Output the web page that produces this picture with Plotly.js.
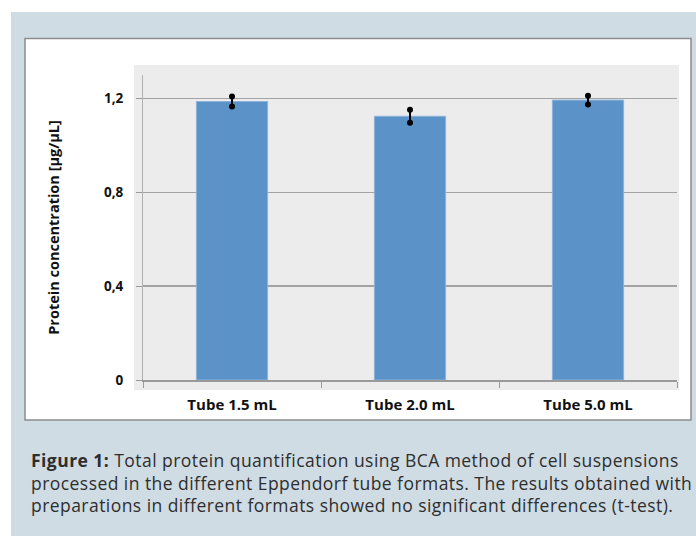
<!DOCTYPE html>
<html>
<head>
<meta charset="utf-8">
<script src="https://cdn.plot.ly/plotly-3.0.1.min.js"></script>
<style>
html,body{margin:0;padding:0;background:#ffffff;}
#wrap{position:relative;width:696px;height:536px;}
#chart{position:absolute;left:0;top:0;width:696px;height:536px;}
#caption{position:absolute;left:31px;top:449px;width:665px;
  font-family:"Open Sans",sans-serif;font-size:17.5px;line-height:22.5px;
  letter-spacing:0.45px;color:#2e2e2e;white-space:nowrap;}
</style>
</head>
<body>
<div id="wrap">
<div id="chart"></div>
<div id="caption"></div>
</div>
<script>
// ---- data ----
const categories = ["Tube 1.5 mL", "Tube 2.0 mL", "Tube 5.0 mL"];
const proteinConc = [1.187, 1.124, 1.193];
const proteinErr = [0.021, 0.028, 0.019];
const yTickVals = [0, 0.4, 0.8, 1.2];
const yTickText = ["0", "0,4", "0,8", "1,2"];
const yTitle = "Protein concentration [µg/µL]";
const captionLabel = "Figure 1:";
const captionLines = [
  " Total protein quantification using BCA method of cell suspensions",
  "processed in the different Eppendorf tube formats. The results obtained with",
  "preparations in different formats showed no significant differences (t-test)."
];

// caption as real text
(function () {
  const cap = document.getElementById("caption");
  const b = document.createElement("b");
  b.textContent = captionLabel;
  cap.appendChild(b);
  captionLines.forEach((line, i) => {
    if (i > 0) cap.appendChild(document.createElement("br"));
    cap.appendChild(document.createTextNode(line));
  });
})();

// ---- geometry helpers (pixel -> paper) ----
const W = 696, H = 536;
const M = {l: 143, r: 19, t: 75, b: 156};
const pw = W - M.l - M.r, ph = H - M.t - M.b;
const px = x => (x - M.l) / pw;
const py = y => (H - M.b - y) / ph;

const chartFont = "Open Sans, Lato, sans-serif";

const bars = {
  type: "bar",
  x: categories,
  y: proteinConc,
  marker: {color: "#5b93c9", line: {color: "#8db2dc", width: 1}},
  error_y: {type: "data", array: proteinErr, visible: true, color: "#000000", thickness: 2, width: 0},
  hoverinfo: "x+y",
  showlegend: false
};
const dotsHigh = {
  type: "scatter", mode: "markers",
  x: categories,
  y: proteinConc.map((v, i) => v + proteinErr[i]),
  marker: {color: "#000000", size: 6},
  showlegend: false, hoverinfo: "skip"
};
const dotsLow = {
  type: "scatter", mode: "markers",
  x: categories,
  y: proteinConc.map((v, i) => v - proteinErr[i]),
  marker: {color: "#000000", size: 6},
  showlegend: false, hoverinfo: "skip"
};

const layout = {
  width: W, height: H,
  margin: M,
  paper_bgcolor: "rgba(0,0,0,0)",
  plot_bgcolor: "rgba(0,0,0,0)",
  bargap: 0.6,
  showlegend: false,
  font: {family: chartFont, color: "#1a1a1a"},
  xaxis: {
    type: "category",
    showline: true, linecolor: "#9a9a9a", linewidth: 1.5,
    ticks: "outside", tickson: "boundaries", ticklen: 6, tickcolor: "#9a9a9a", tickwidth: 1,
    ticklabelstandoff: 10,
    showgrid: false, zeroline: false,
    tickfont: {family: chartFont, size: 15, color: "#111111", weight: "bold"}
  },
  yaxis: {
    range: [0, 1.3],
    tickvals: yTickVals, ticktext: yTickText,
    showline: true, linecolor: "#b0b0b0", linewidth: 1,
    ticks: "outside", ticklen: 6, tickcolor: "#9a9a9a", tickwidth: 1,
    ticklabelstandoff: 10,
    showgrid: true, gridcolor: "#a3a3a3", gridwidth: 1.3,
    zeroline: false,
    tickfont: {family: chartFont, size: 13.5, color: "#111111", weight: "bold"},
    title: {text: yTitle, standoff: 40, font: {family: chartFont, size: 14.5, color: "#111111", weight: "bold"}}
  },
  shapes: [
    {type: "rect", xref: "paper", yref: "paper", layer: "below",
     x0: px(11), x1: px(700), y0: py(12), y1: py(540),
     fillcolor: "#cfdce4", line: {width: 0}},
    {type: "rect", xref: "paper", yref: "paper", layer: "below",
     x0: px(25), x1: px(691), y0: py(38.5), y1: py(420),
     fillcolor: "#ffffff", line: {color: "#8c8c8c", width: 1.5}},
    {type: "rect", xref: "paper", yref: "paper", layer: "below",
     x0: px(134), x1: px(679), y0: py(65), y1: py(390),
     fillcolor: "#ececec", line: {width: 0}}
  ]
};

Plotly.newPlot("chart", [bars, dotsHigh, dotsLow], layout, {displayModeBar: false, staticPlot: true});
</script>
</body>
</html>
